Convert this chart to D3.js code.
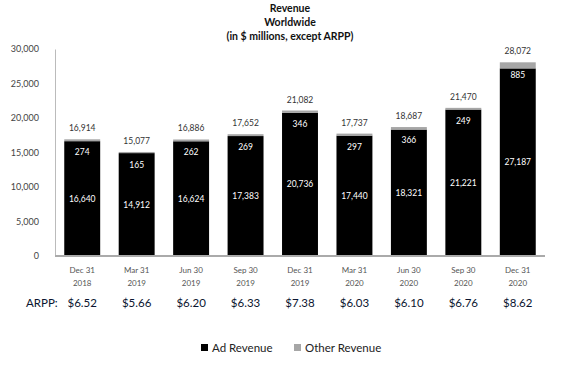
<!DOCTYPE html>
<html>
<head>
<meta charset="utf-8">
<script src="https://cdn.jsdelivr.net/npm/d3@7"></script>
<style>
  body { margin: 0; background: #fff; }
  svg { font-family: Lato, "Open Sans", sans-serif; }
</style>
</head>
<body>
<svg id="chart" width="580" height="373"></svg>
<script>
// quarters, two-line labels
var quarters = ['Dec 31|2018', 'Mar 31|2019', 'Jun 30|2019', 'Sep 30|2019', 'Dec 31|2019',
	'Mar 31|2020', 'Jun 30|2020', 'Sep 30|2020', 'Dec 31|2020'];
var adRevenue = [16640, 14912, 16624, 17383, 20736, 17440, 18321, 21221, 27187];
var otherRevenue = [274, 165, 262, 269, 346, 297, 366, 249, 885];
var totals = [16914, 15077, 16886, 17652, 21082, 17737, 18687, 21470, 28072];
var arpp = ['$6.52', '$5.66', '$6.20', '$6.33', '$7.38', '$6.03', '$6.10', '$6.76', '$8.62'];
var yTicks = [0, 5000, 10000, 15000, 20000, 25000, 30000];

var svg = d3.select('#chart'),
	fmt = d3.format(',');

var x = d3.scaleBand().domain(quarters).range([55, 545]).paddingInner(0.34).paddingOuter(0.17),
	y = d3.scaleLinear().domain([0, 30000]).range([256, 49]);

// title
['Revenue', 'Worldwide', '(in $ millions, except ARPP)'].forEach(function (t, i) {
	svg.append('text').attr('x', 290).attr('y', 12 + i * 14)
		.attr('text-anchor', 'middle').style('font-size', '10.5px').style('font-weight', 'bold')
		.style('fill', '#111').text(t);
});

// y axis
var yAxis = svg.append('g').attr('transform', 'translate(55,0)')
	.call(d3.axisLeft(y).tickValues(yTicks).tickSize(0).tickPadding(16).tickFormat(fmt));
yAxis.select('.domain').attr('stroke', '#bbb');
yAxis.selectAll('text').style('font-size', '9px').style('fill', '#444').style('font-family', 'Lato, sans-serif');

// bars
var stack = d3.stack().keys(['ad', 'other'])(quarters.map(function (q, i) {
	return {q: q, ad: adRevenue[i], other: otherRevenue[i]};
}));
var colors = {ad: '#000', other: '#a6a6a6'};

stack.forEach(function (layer) {
	svg.append('g').selectAll('rect').data(layer).enter().append('rect')
		.attr('x', function (d) { return x(d.data.q); })
		.attr('width', x.bandwidth())
		.attr('y', function (d) { return y(d[1]); })
		.attr('height', function (d) { return y(d[0]) - y(d[1]); })
		.style('fill', colors[layer.key]);
});

// baseline
svg.append('line').attr('x1', 55).attr('x2', 545).attr('y1', y(0)).attr('y2', y(0))
	.attr('stroke', '#aaa').attr('stroke-width', 2);

var cx = function (q) { return x(q) + x.bandwidth() / 2; };

// ad labels, centred in the ad segment
svg.append('g').selectAll('text').data(quarters).enter().append('text')
	.attr('x', cx)
	.attr('y', function (q, i) { return (y(0) + y(adRevenue[i])) / 2 + 3; })
	.attr('text-anchor', 'middle').style('font-size', '8.5px').style('fill', '#fff')
	.text(function (q, i) { return fmt(adRevenue[i]); });

// other labels, just under the top of the bar
svg.append('g').selectAll('text').data(quarters).enter().append('text')
	.attr('x', cx)
	.attr('y', function (q, i) { return y(totals[i]) + 16; })
	.attr('text-anchor', 'middle').style('font-size', '8.5px').style('fill', '#fff')
	.text(function (q, i) { return fmt(otherRevenue[i]); });

// totals
svg.append('g').selectAll('text').data(quarters).enter().append('text')
	.attr('x', cx)
	.attr('y', function (q, i) { return y(totals[i]) - 8; })
	.attr('text-anchor', 'middle').style('font-size', '8.5px').style('fill', '#333')
	.text(function (q, i) { return fmt(totals[i]); });

// x labels
var xl = svg.append('g').selectAll('text').data(quarters).enter().append('text')
	.attr('x', cx).attr('y', 273)
	.attr('text-anchor', 'middle').style('font-size', '8px').style('fill', '#555');
xl.append('tspan').attr('x', cx).text(function (q) { return q.split('|')[0]; });
xl.append('tspan').attr('x', cx).attr('dy', 13).text(function (q) { return q.split('|')[1]; });

// ARPP row
svg.append('text').attr('x', 26).attr('y', 307).style('font-size', '11.5px').style('fill', '#0b1530').text('ARPP:');
svg.append('g').selectAll('text').data(quarters).enter().append('text')
	.attr('x', cx).attr('y', 307)
	.attr('text-anchor', 'middle').style('font-size', '11.5px').style('fill', '#0b1530')
	.text(function (q, i) { return arpp[i]; });

// legend
var legend = [{name: 'Ad Revenue', key: 'ad', x: 201}, {name: 'Other Revenue', key: 'other', x: 294}];
legend.forEach(function (l) {
	svg.append('rect').attr('x', l.x).attr('y', 344).attr('width', 7).attr('height', 7).style('fill', colors[l.key]);
	svg.append('text').attr('x', l.x + 11).attr('y', 352).style('font-size', '11.5px').style('fill', '#222').text(l.name);
});
</script>
</body>
</html>
